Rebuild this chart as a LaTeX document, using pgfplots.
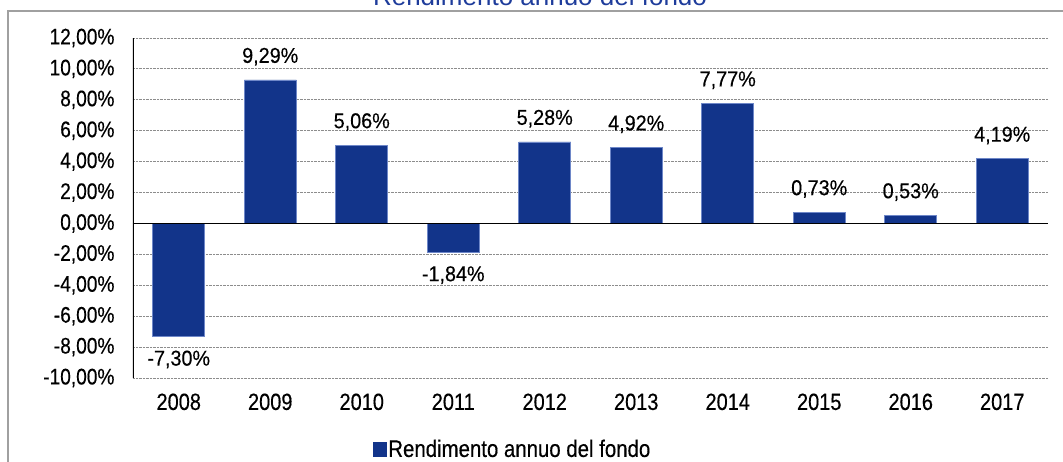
\documentclass[border=0pt]{standalone}
\usepackage{fontspec}
\setmainfont{Liberation Sans}[FakeStretch=0.85, FakeBold=0.35]
\newfontfamily\titlefont{Liberation Sans}
\newfontfamily\labelfont{Liberation Sans}[FakeStretch=0.92, FakeBold=0.35]
\usepackage{pgfplots}
\pgfplotsset{compat=1.18}
\definecolor{barblue}{RGB}{18,52,138}
\definecolor{baredge}{RGB}{110,135,200}
\definecolor{titleblue}{RGB}{30,60,155}
\definecolor{framegray}{RGB}{160,160,160}
\begin{document}
\begin{tikzpicture}
\path[use as bounding box] (0,0) rectangle (1063pt,-461pt);
\draw[framegray, line width=2pt] (8pt,-480pt) -- (8pt,-11pt) -- (1090pt,-11pt);
\node[anchor=base, inner sep=0pt, font=\titlefont\fontsize{26}{30}\selectfont, text=titleblue] at (540pt,-5pt) {Rendimento annuo del fondo};
\begin{axis}[
  at={(133pt,-378pt)}, anchor=south west,
  scale only axis, width=915pt, height=340pt,
  xmin=-0.5, xmax=9.5, ymin=-10, ymax=12,
  axis line style={draw=none},
  major tick length=0pt,
  xtick={0,...,9},
  xticklabels={2008,2009,2010,2011,2012,2013,2014,2015,2016,2017},
  ytick={-10,-8,...,12},
  yticklabels={{-10,00\%},{-8,00\%},{-6,00\%},{-4,00\%},{-2,00\%},{0,00\%},{2,00\%},{4,00\%},{6,00\%},{8,00\%},{10,00\%},{12,00\%}},
  xticklabel style={font=\fontsize{23.5}{27}\selectfont, yshift=-12pt},
  yticklabel style={font=\fontsize{22.5}{26}\selectfont, xshift=-15pt},
  ymajorgrids,
  major grid style={densely dotted, black!45, line width=0.9pt},
  legend style={at={(0.4148,-0.2088)}, anchor=center, draw=none, fill=none,
    inner sep=0pt, font=\fontsize{24}{28}\selectfont},
  legend image code/.code={\fill[barblue] (0pt,-7pt) rectangle (13pt,7pt);},
]
\addplot[ybar, bar width=52pt, fill=barblue, draw=baredge, line width=0.6pt,
  nodes near coords, point meta=explicit symbolic,
  every node near coord/.append style={font=\labelfont\fontsize{21.5}{25}\selectfont, text=black, anchor=south, inner sep=14pt}]
coordinates {
  (1,9.29) [9,29\%]
  (2,5.06) [5,06\%]
  (4,5.28) [5,28\%]
  (5,4.92) [4,92\%]
  (6,7.77) [7,77\%]
  (7,0.73) [0,73\%]
  (8,0.53) [0,53\%]
  (9,4.19) [4,19\%]
};
\addlegendentry{Rendimento annuo del fondo}
\addplot[ybar, bar width=52pt, fill=barblue, draw=baredge, line width=0.6pt, forget plot,
  nodes near coords, point meta=explicit symbolic,
  every node near coord/.append style={font=\labelfont\fontsize{21.5}{25}\selectfont, text=black, anchor=north, inner sep=14pt}]
coordinates {
  (0,-7.30) [-7,30\%]
  (3,-1.84) [-1,84\%]
};
\draw[black, line width=1.4pt] (rel axis cs:0,0) -- (rel axis cs:0,1);
\draw[black, line width=1.4pt] (axis cs:-0.5,0) -- (axis cs:9.5,0);
\end{axis}
\end{tikzpicture}
\end{document}
